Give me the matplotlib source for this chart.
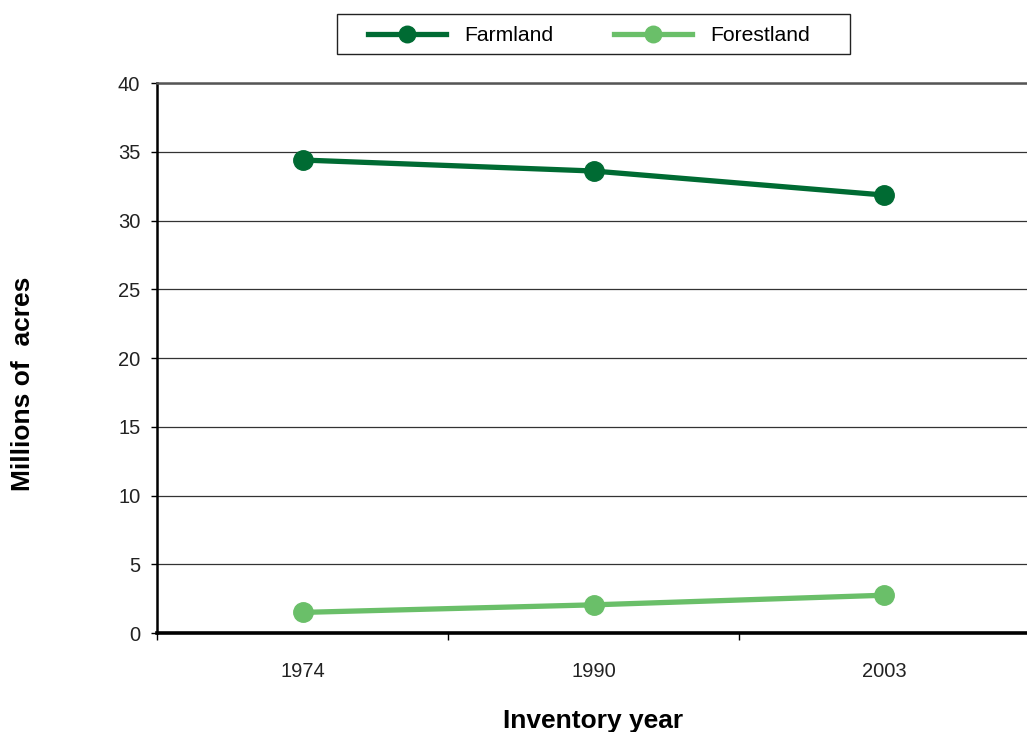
import numpy as np
from matplotlib import pyplot as plt
from matplotlib.patches import Rectangle

years = ['1974', '1990', '2003']
farmland = [34.4, 33.6, 31.85]
forestland = [1.5, 2.05, 2.75]

plt.rcParams['font.family'] = ['Liberation Sans', 'DejaVu Sans']

fig = plt.figure(figsize=(10.27, 7.32), dpi=100)
ax = fig.add_axes([0.1529, 0.1352, 0.850, 0.7514])

x = np.arange(len(years))
ax.plot(x, farmland, color='#006b33', lw=3.8, marker='o', ms=14, label='Farmland')
ax.plot(x, forestland, color='#6abf69', lw=3.8, marker='o', ms=14, label='Forestland')

ax.set_xlim(-0.5, len(years) - 0.5)
ax.set_ylim(0, 40)
ax.set_yticks(np.arange(0, 41, 5))
ax.yaxis.grid(True, color='#333333', lw=0.9)
ax.set_axisbelow(True)

ax.set_xticks(x)
ax.set_xticklabels(years)
ax.set_xticks(np.arange(-0.5, len(years), 1), minor=True)
ax.tick_params(axis='x', which='major', length=0, pad=21, labelsize=14.5, colors='#222222')
ax.tick_params(axis='x', which='minor', length=5, width=1, direction='out')
ax.tick_params(axis='y', length=4, width=1, direction='out', pad=8, labelsize=14.5,
               labelcolor='#222222')

ax.spines['left'].set_linewidth(1.8)
ax.spines['left'].set_color('black')
ax.spines['bottom'].set_linewidth(2.6)
ax.spines['bottom'].set_color('black')
ax.spines['top'].set_linewidth(1.8)
ax.spines['top'].set_color('#555555')
ax.spines['right'].set_visible(False)

ax.set_xlabel('Inventory year', fontsize=19, fontweight='bold', labelpad=20)
fig.text(0.022, 0.476, 'Millions of  acres', rotation=90, fontsize=19,
         fontweight='bold', ha='center', va='center')

# legend box drawn separately, it has wide side padding
fig.patches.append(Rectangle((0.3281, 0.9262), 0.4995, 0.0546, transform=fig.transFigure,
                             fill=False, edgecolor='#222222', lw=1.0))
leg = fig.legend(loc='center', bbox_to_anchor=(0.5735, 0.9510), ncol=2, fontsize=15.2,
                 handlelength=3.7, markerscale=0.85, frameon=False,
                 columnspacing=2.9, handletextpad=0.85, borderpad=0.0)

fig.savefig('out.png', dpi=100)
